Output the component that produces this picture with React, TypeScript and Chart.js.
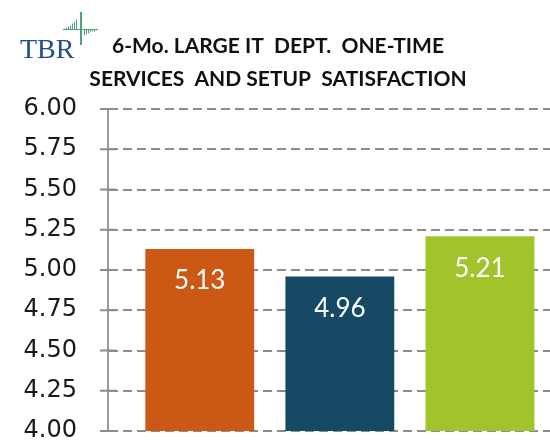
import React, { useEffect, useRef } from "react";
import { Chart, registerables } from "chart.js";

Chart.register(...registerables);

const categories = ["Group A", "Group B", "Group C"];
const positions = [1, 2, 3];
const values = [5.13, 4.96, 5.21];
const colors = ["#CC5816", "#164A64", "#A1C42D"];
const titleLines = ["6-Mo. LARGE IT  DEPT.  ONE-TIME", "SERVICES  AND SETUP  SATISFACTION"];
const yMin = 4;
const yMax = 6;
const yStep = 0.25;

const decorPlugin = {
  id: "decor",
  beforeDatasetsDraw(chart: any) {
    const ctx = chart.ctx;
    const ys = chart.scales.y;
    const x0 = chart.chartArea.left;
    ctx.save();
    ctx.strokeStyle = "#8c8c8c";
    ctx.lineWidth = 2;
    ys.ticks.forEach((t: any) => {
      const y = ys.getPixelForValue(t.value);
      ctx.beginPath();
      ctx.moveTo(x0 - 8, y);
      ctx.lineTo(x0 + 8, y);
      ctx.stroke();
    });
    ctx.restore();
  },
  afterDatasetsDraw(chart: any) {
    const ctx = chart.ctx;
    const meta = chart.getDatasetMeta(0);
    ctx.save();
    ctx.fillStyle = "#ffffff";
    ctx.font = "26px Lato";
    ctx.textAlign = "center";
    ctx.textBaseline = "middle";
    meta.data.forEach((bar: any, i: number) => {
      ctx.fillText(values[i].toFixed(2), bar.x, bar.y + 32);
    });
    ctx.restore();
  },
  afterDraw(chart: any) {
    const ctx = chart.ctx;
    ctx.save();
    ctx.fillStyle = "#111111";
    ctx.font = "bold 21px Lato";
    ctx.textAlign = "center";
    ctx.textBaseline = "middle";
    ctx.fillText(titleLines[0], 278, 46.5);
    ctx.fillText(titleLines[1], 278, 79);
    ctx.fillStyle = "#1F4E8A";
    ctx.font = "28px 'Liberation Serif'";
    ctx.textAlign = "left";
    ctx.textBaseline = "alphabetic";
    ctx.fillText("TBR", 20, 58);
    ctx.strokeStyle = "#4FA37A";
    ctx.lineWidth = 2;
    ctx.beginPath();
    ctx.moveTo(81, 12);
    ctx.lineTo(81, 45);
    ctx.stroke();
    ctx.lineWidth = 1;
    ctx.beginPath();
    ctx.moveTo(63, 29.5);
    ctx.lineTo(98, 29.5);
    ctx.stroke();
    [1, 2, 3, 4, 6, 8, 10].forEach((h, i) => {
      const x = 64.5 + i * 2;
      ctx.beginPath();
      ctx.moveTo(x, 29.5);
      ctx.lineTo(x, 29.5 - h);
      ctx.stroke();
    });
    [6, 5, 4, 3, 2, 2, 1].forEach((h, i) => {
      const x = 84.5 + i * 2;
      ctx.beginPath();
      ctx.moveTo(x, 29.5);
      ctx.lineTo(x, 29.5 + h);
      ctx.stroke();
    });
    ctx.restore();
  },
};

export default function App() {
  const ref = useRef<HTMLCanvasElement>(null);
  useEffect(() => {
    document.body.style.margin = "0";
    const chart = new Chart(ref.current!, {
      type: "bar",
      data: {
        datasets: [
          {
            label: "Satisfaction",
            data: positions.map((p, i) => ({ x: p, y: values[i] })),
            backgroundColor: colors,
            categoryPercentage: 1,
            barPercentage: 0.777,
          },
        ],
      },
      options: {
        animation: false,
        responsive: false,
        layout: { padding: { top: 109, bottom: 15, left: 0, right: 0 } },
        plugins: { legend: { display: false }, title: { display: false }, tooltip: { enabled: false } },
        scales: {
          x: {
            type: "linear",
            min: 0.345,
            max: 3.5,
            offset: false,
            display: false,
            afterBuildTicks: (scale: any) => {
              scale.ticks = positions.map((v) => ({ value: v }));
            },
          },
          y: {
            min: yMin,
            max: yMax,
            afterFit: (scale: any) => {
              scale.width = 108;
            },
            ticks: {
              stepSize: yStep,
              padding: 0,
              color: "#1a1a1a",
              font: { family: "'DejaVu Sans'", size: 24 },
              callback: (v: any) => Number(v).toFixed(2),
            },
            border: { display: true, color: "#9a9a9a", width: 2, dash: [9, 5] },
            grid: {
              color: "#8c8c8c",
              lineWidth: 2,
              tickLength: 31,
              tickColor: "rgba(0,0,0,0)",
              tickWidth: 2,
            } as any,
          },
        },
      },
      plugins: [decorPlugin],
    } as any);
    return () => chart.destroy();
  }, []);
  return <canvas ref={ref} width={550} height={446} style={{ display: "block" }} aria-label={categories.join(", ")} />;
}
